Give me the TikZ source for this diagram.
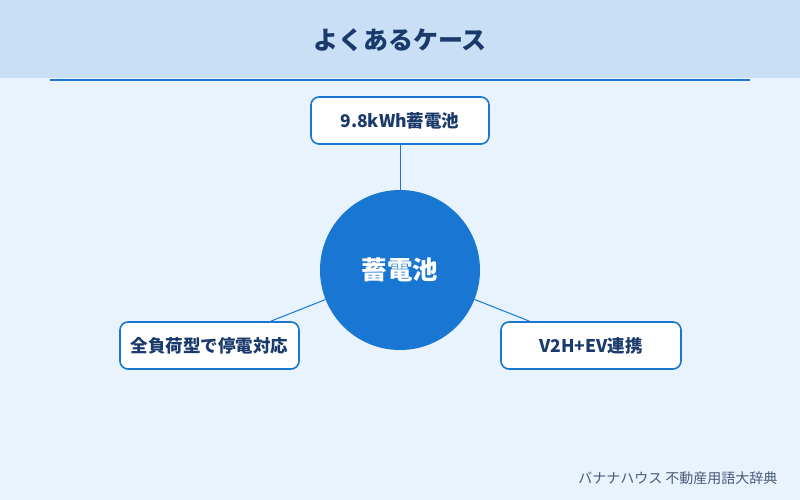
\documentclass[tikz,border=0pt]{standalone}
\usepackage{fontspec}
\setmainfont{Noto Sans CJK JP}
\definecolor{pagebg}{HTML}{E8F3FD}
\definecolor{headbg}{HTML}{C8DFF5}
\definecolor{mainblue}{HTML}{1976D2}
\definecolor{navy}{HTML}{1A3A6B}
\definecolor{foot}{HTML}{4A5A7A}
\tikzset{
  casebox/.style={draw=mainblue, line width=1.6pt, fill=white, rounded corners=8pt,
    minimum height=47pt, inner sep=0pt, text=navy, font=\fontsize{17.5pt}{19pt}\selectfont\bfseries},
  hub/.style={circle, fill=mainblue, minimum size=160pt, inner sep=0pt, text=white,
    font=\fontsize{25.5pt}{27pt}\selectfont\bfseries},
  link/.style={draw=mainblue, line width=1pt}
}
\begin{document}
\begin{tikzpicture}[x=1pt,y=-1pt]
\useasboundingbox (0,0) rectangle (800,500);
\fill[pagebg] (0,0) rectangle (800,500);
\fill[headbg] (0,0) rectangle (800,78);
\node[text=navy, font=\fontsize{25pt}{27pt}\selectfont\bfseries] (title) at (400,40) {よくあるケース};
\draw[mainblue, line width=2pt] (50,80) coordinate (rl) -- (750,80) coordinate (rr);
\node[hub] (c) at (400,270) {蓄電池};
\node[casebox, minimum width=178pt] (t) at (400,120.5) {9.8kWh蓄電池};
\node[casebox, minimum width=179pt] (l) at (209.5,345.5) {全負荷型で停電対応};
\node[casebox, minimum width=180pt] (r) at (591,345.5) {V2H+EV連携};
\draw[link] (t) -- (c);
\draw[link] (c) -- (l);
\draw[link] (c) -- (r);
\node[anchor=east, text=foot, font=\fontsize{14pt}{16pt}\selectfont] (ft) at (781,478) {バナナハウス 不動産用語大辞典};
\end{tikzpicture}
\end{document}
